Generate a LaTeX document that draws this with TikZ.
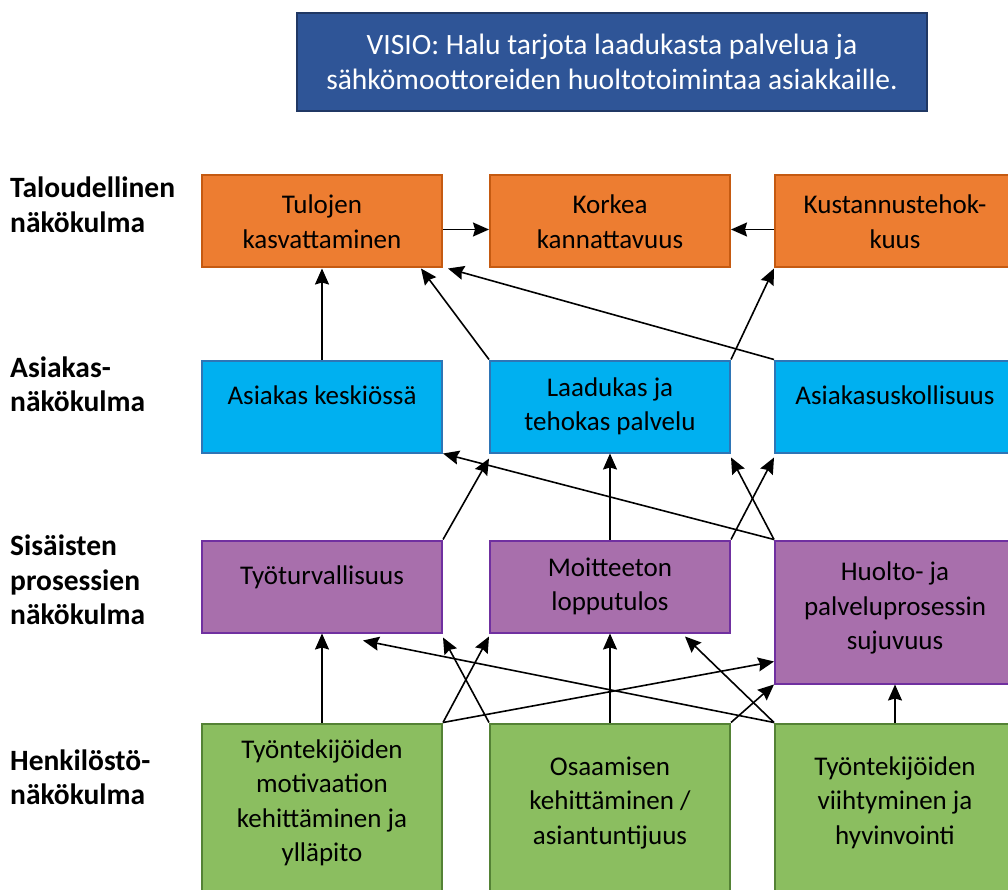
\documentclass[tikz,border=0pt]{standalone}
\usepackage{fontspec}
\setmainfont{Carlito}
\usepackage{tikz}
\usetikzlibrary{arrows.meta,positioning}
\definecolor{oranssi}{RGB}{237,125,49}
\definecolor{oranssireuna}{RGB}{197,90,17}
\definecolor{sininen}{RGB}{0,176,240}
\definecolor{sininenreuna}{RGB}{46,117,182}
\definecolor{violetti}{RGB}{168,111,172}
\definecolor{violettireuna}{RGB}{112,48,160}
\definecolor{vihrea}{RGB}{139,190,96}
\definecolor{vihreareuna}{RGB}{84,130,53}
\definecolor{visiotausta}{RGB}{47,85,151}
\definecolor{visioreuna}{RGB}{32,56,100}
\tikzset{
    %Define standard arrow tip
    >={Stealth[length=16pt,width=14pt,inset=2pt]},
    %Define style for boxes
    laatikko/.style={
           rectangle,
           draw, line width=2pt,
           minimum width=240pt,
           minimum height=92pt,
           font=\fontsize{27pt}{34.5pt}\selectfont,
           align=center},
    talous/.style={laatikko, fill=oranssi, draw=oranssireuna},
    asiakas/.style={laatikko, fill=sininen, draw=sininenreuna},
    prosessi/.style={laatikko, fill=violetti, draw=violettireuna},
    henkilo/.style={laatikko, fill=vihrea, draw=vihreareuna,
           minimum height=200pt, text depth=46pt},
    yksirivi/.style={text height=20pt, text depth=25pt},
    visio/.style={
           rectangle,
           draw=visioreuna, line width=2pt,
           fill=visiotausta,
           text=white,
           minimum width=630pt,
           minimum height=98pt,
           font=\fontsize{29.5pt}{35pt}\selectfont,
           align=center},
    otsikko/.style={
           anchor=west,
           inner sep=0pt,
           align=left,
           font=\bfseries\fontsize{29.5pt}{34.5pt}\selectfont},
    % Define arrow style
    nuoli/.style={
           ->,
           line width=1.6pt}
}

\begin{document}
\begin{tikzpicture}[x=1pt,y=-1pt,node distance=46pt]
\useasboundingbox (0,0) rectangle (1008,890);
\clip (0,0) rectangle (1008,890);
\node[visio](visio) at (612,62){VISIO: Halu tarjota laadukasta palvelua ja\\sähkömoottoreiden huoltotoimintaa asiakkaille.};
% nakokulmat
\node[otsikko](talousn) at (10,205){Taloudellinen\\näkökulma};
\node[otsikko](asiakasn) at (10,384.5){Asiakas-\\näkökulma};
\node[otsikko](prosessin) at (10,580){Sisäisten\\prosessien\\näkökulma};
\node[otsikko](henkilon) at (10,777.5){Henkilöstö-\\näkökulma};
% talous
\node[talous](tulot) at (322,221.5){Tulojen\\kasvattaminen};
\node[talous, right=46pt of tulot](kannattavuus){Korkea\\kannattavuus};
\node[talous, right=43pt of kannattavuus](kustannus){Kustannustehok-\\kuus};
% asiakas
\node[asiakas, yksirivi, below=91pt of tulot](keskio){Asiakas keskiössä};
\node[asiakas, right=46pt of keskio](laadukas){Laadukas ja\\tehokas palvelu};
\node[asiakas, yksirivi, right=43pt of laadukas](uskollisuus){Asiakasuskollisuus};
% prosessit
\node[prosessi, yksirivi, below=86pt of keskio](tyoturv){Työturvallisuus};
\node[prosessi, right=46pt of tyoturv](moitteeton){Moitteeton\\lopputulos};
\node[prosessi, minimum height=143pt, text depth=12pt, right=43pt of moitteeton.north east, anchor=north west](huolto){Huolto- ja\\palveluprosessin\\sujuvuus};
% henkilosto
\node[henkilo, below=89pt of tyoturv](motivaatio){Työntekijöiden\\motivaation\\kehittäminen ja\\ylläpito};
\node[henkilo, right=46pt of motivaatio](osaaminen){Osaamisen\\kehittäminen /\\asiantuntijuus};
\node[henkilo, right=43pt of osaaminen](hyvinvointi){Työntekijöiden\\viihtyminen ja\\hyvinvointi};
\path[nuoli]
    ([yshift=-8pt]tulot.east) edge ([yshift=-8pt]kannattavuus.west)
    ([yshift=-8pt]kustannus.west) edge ([yshift=-8pt]kannattavuus.east)
    (keskio) edge (tulot)
    (laadukas.north west) edge ([xshift=-22pt]tulot.south east)
    (uskollisuus.north west) edge ([xshift=5pt]tulot.south east)
    (laadukas.north east) edge (kustannus.south west)
    (tyoturv.north east) edge ([yshift=-5pt]laadukas.south west)
    (huolto.north west) edge (keskio.south east)
    (moitteeton) edge (laadukas)
    (moitteeton.north east) edge ([yshift=-4pt]uskollisuus.south west)
    (huolto.north west) edge ([yshift=-4pt]laadukas.south east)
    (motivaatio) edge (tyoturv)
    (osaaminen.north west) edge ([yshift=-4pt]tyoturv.south east)
    (motivaatio.north east) edge ([yshift=-3pt]moitteeton.south west)
    (motivaatio.north east) edge ([yshift=23pt]huolto.south west)
    (hyvinvointi.north west) edge ([xshift=41pt,yshift=-7pt]tyoturv.south)
    (osaaminen) edge (moitteeton)
    (hyvinvointi.north west) edge ([xshift=-46pt,yshift=-3pt]moitteeton.south east)
    (osaaminen.north east) edge (huolto.south west)
    (hyvinvointi) edge (huolto);
\end{tikzpicture}
\end{document}
